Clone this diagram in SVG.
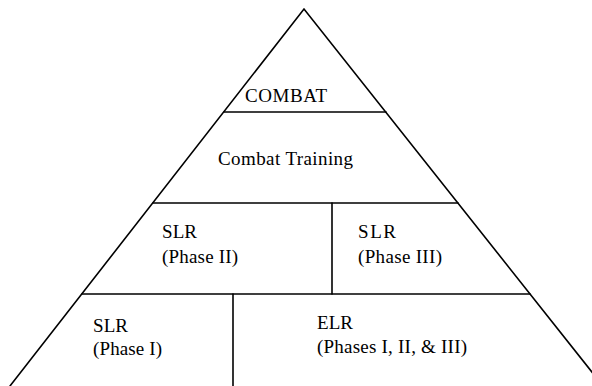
<svg xmlns="http://www.w3.org/2000/svg" width="592" height="386" viewBox="0 0 592 386">
<style>
.ln{stroke:#000;stroke-width:1.6;fill:none;stroke-linecap:round}
text{font-family:"Liberation Serif","Times New Roman",serif;font-size:19px;fill:#000}
</style>
<rect width="592" height="386" fill="#fff"/>
<g id="connectors">
<path class="ln" d="M10,386 L304,9 L603,386"/>
<path class="ln" d="M224,112 H386"/>
<path class="ln" d="M153,203 H458"/>
<path class="ln" d="M82,294 H530"/>
<path class="ln" d="M332,203 V294"/>
<path class="ln" d="M233,294 V386"/>
</g>
<g id="combat"><text x="245" y="102" textLength="82" lengthAdjust="spacing">COMBAT</text></g>
<g id="combat-training"><text x="218" y="165" textLength="135" lengthAdjust="spacing">Combat Training</text></g>
<g id="slr-phase2"><text x="162" y="238" textLength="35" lengthAdjust="spacing">SLR</text><text x="162" y="263" textLength="76" lengthAdjust="spacing">(Phase II)</text></g>
<g id="slr-phase3"><text x="358" y="238" textLength="38" lengthAdjust="spacing">SLR</text><text x="358" y="263" textLength="84" lengthAdjust="spacing">(Phase III)</text></g>
<g id="slr-phase1"><text x="93" y="332" textLength="35" lengthAdjust="spacing">SLR</text><text x="93" y="355" textLength="69" lengthAdjust="spacing">(Phase I)</text></g>
<g id="elr"><text x="317" y="329" textLength="36" lengthAdjust="spacing">ELR</text><text x="317" y="353" textLength="150" lengthAdjust="spacing">(Phases I, II, &amp; III)</text></g>
</svg>
